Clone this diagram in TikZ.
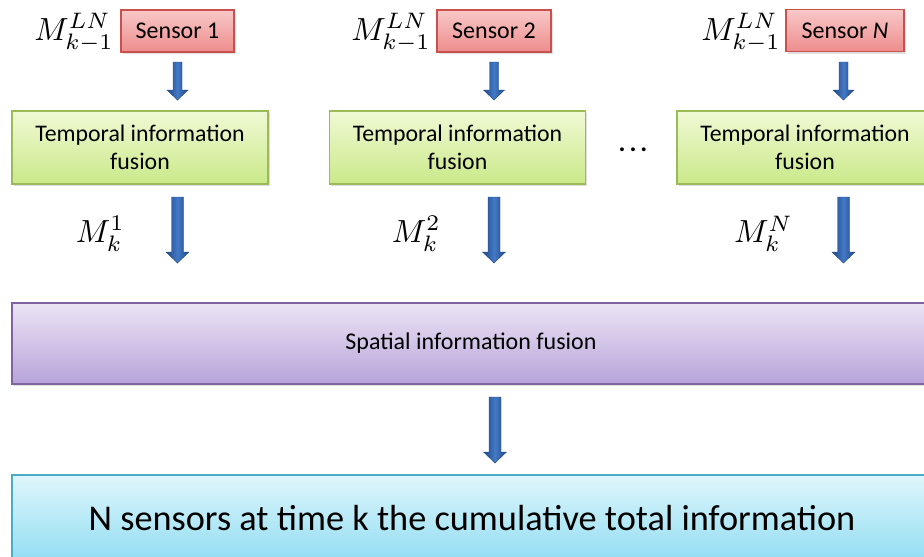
\documentclass[tikz,border=0pt]{standalone}
\usepackage{fontspec}
\setmainfont{Carlito}
\usetikzlibrary{calc,shadows}
\definecolor{sensB}{HTML}{C9504C}
\definecolor{sensT}{HTML}{F8C8C8}
\definecolor{sensD}{HTML}{EE8C8C}
\definecolor{tempB}{HTML}{9BBB59}
\definecolor{tempT}{HTML}{F0F9D4}
\definecolor{tempD}{HTML}{CAE98A}
\definecolor{spatB}{HTML}{8064A2}
\definecolor{spatT}{HTML}{EBE4F4}
\definecolor{spatD}{HTML}{B8A3DA}
\definecolor{botB}{HTML}{4BACC6}
\definecolor{botT}{HTML}{DEF6FC}
\definecolor{botD}{HTML}{93DDF2}
\definecolor{arrD}{HTML}{1E4886}
\definecolor{arrL}{HTML}{4479C6}
\tikzset{
  boxbase/.style={rectangle, inner sep=0pt, align=center, line width=1.3pt,
    drop shadow={shadow xshift=1.5pt, shadow yshift=-2pt, opacity=0.25}},
  sensorbox/.style={boxbase, draw=sensB, top color=sensT, bottom color=sensD,
    minimum height=42pt, font=\fontsize{24}{28}\selectfont},
  tempbox/.style={boxbase, draw=tempB, top color=tempT, bottom color=tempD,
    minimum width=256pt, minimum height=73pt, font=\fontsize{23.8}{28}\selectfont},
  spatbox/.style={boxbase, draw=spatB, top color=spatT, bottom color=spatD,
    minimum width=918pt, minimum height=81pt, font=\fontsize{24}{28}\selectfont},
  totbox/.style={boxbase, draw=botB, top color=botT, bottom color=botD,
    minimum width=920pt, minimum height=86pt, font=\fontsize{36.3}{42}\selectfont},
  mlabel/.style={inner sep=0pt},
  arrowshade/.style={left color=arrD, right color=arrD, middle color=arrL, draw=arrD, line width=0.4pt}
}
\newcommand\blockarrow[5]{%
  \shadedraw[arrowshade] let \p1=(#1), \p2=(#2) in
    (\x1-#3,\y1) -- (\x1+#3,\y1) -- (\x1+#3,\y2+#5) -- (\x1+#4,\y2+#5) --
    (\x1,\y2) -- (\x1-#4,\y2+#5) -- (\x1-#3,\y2+#5) -- cycle;}
\newcommand\mlab[1]{\scalebox{3.2}{$#1$}}
\begin{document}
\begin{tikzpicture}[x=1pt,y=-1pt]
\useasboundingbox (0,0) rectangle (924,557);
% sensors
\node[sensorbox, minimum width=113pt] (s1) at (177.5,31) {Sensor 1};
\node[sensorbox, minimum width=114pt] (s2) at (494,31) {Sensor 2};
\node[sensorbox, minimum width=118pt] (sN) at (845,30.5) {Sensor \textit{N}};
% labels above
\node[mlabel, anchor=east] (m1) at (114,33) {\mlab{M^{LN}_{k-1}}};
\node[mlabel, anchor=east] (m2) at (431,33) {\mlab{M^{LN}_{k-1}}};
\node[mlabel, anchor=east] (mN) at (781,33) {\mlab{M^{LN}_{k-1}}};
% temporal
\node[tempbox] (t1) at (140,147.5) {Temporal information\\fusion};
\node[tempbox] (t2) at (457.5,147.5) {Temporal information\\fusion};
\node[tempbox] (tN) at (805,147.5) {Temporal information\\fusion};
\node[inner sep=0pt, anchor=base] (dots) at (633,151) {\fontsize{26}{30}\selectfont\textbf{.\kern4pt.\kern4pt.}};
% M_k labels
\node[mlabel, anchor=east] (k1) at (125,234) {\mlab{M_k^1}};
\node[mlabel, anchor=east] (k2) at (441,234) {\mlab{M_k^2}};
\node[mlabel, anchor=east] (kN) at (793,234) {\mlab{M_k^N}};
% spatial
\node[spatbox] (sp) at (471,343.5) {Spatial information fusion};
% total
\node[totbox] (tot) at (472,518) {N sensors at time k the cumulative total information};
% arrow coordinates
\coordinate (a1s) at (177.5,62);  \coordinate (a1e) at (177.5,100);
\coordinate (a2s) at (494,62);    \coordinate (a2e) at (494,100);
\coordinate (a3s) at (843.5,62);  \coordinate (a3e) at (843.5,100);
\coordinate (b1s) at (177.5,197); \coordinate (b1e) at (177.5,263);
\coordinate (b2s) at (494,197);   \coordinate (b2e) at (494,263);
\coordinate (b3s) at (843.5,197); \coordinate (b3e) at (843.5,263);
\coordinate (cs) at (495,397);    \coordinate (ce) at (495,463);
\blockarrow{a1s}{a1e}{4.5pt}{10.5pt}{10pt}
\blockarrow{a2s}{a2e}{4.5pt}{10.5pt}{10pt}
\blockarrow{a3s}{a3e}{4.5pt}{10.5pt}{10pt}
\blockarrow{b1s}{b1e}{6pt}{11.5pt}{11pt}
\blockarrow{b2s}{b2e}{6pt}{11.5pt}{11pt}
\blockarrow{b3s}{b3e}{6pt}{11.5pt}{11pt}
\blockarrow{cs}{ce}{6pt}{11.5pt}{11pt}
\end{tikzpicture}
\end{document}
